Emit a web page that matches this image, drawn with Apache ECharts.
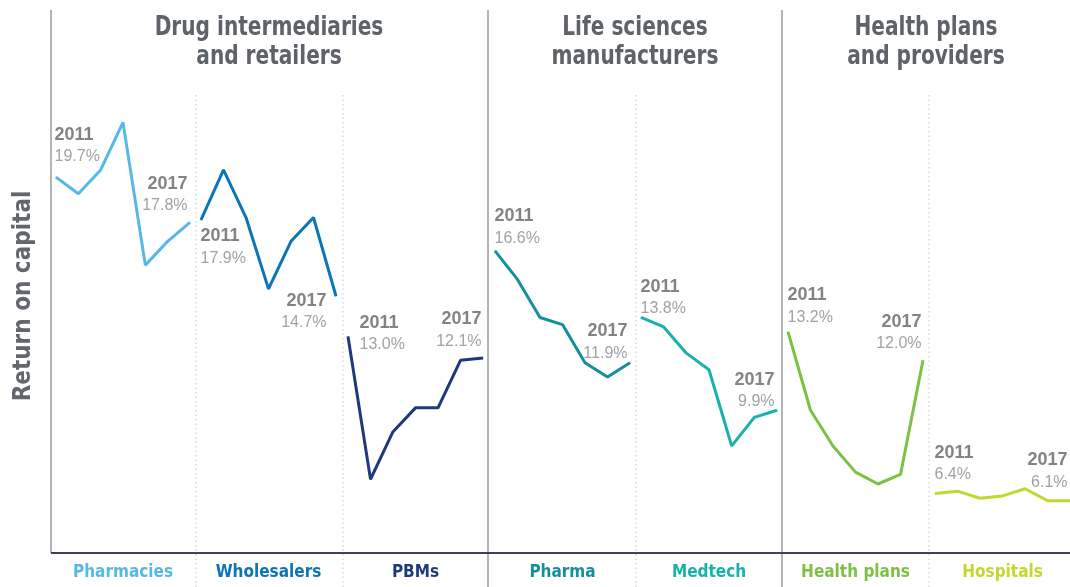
<!DOCTYPE html>
<html>
<head>
<meta charset="utf-8">
<script src="https://cdn.jsdelivr.net/npm/echarts@6/dist/echarts.min.js"></script>
<style>
  html, body { margin: 0; padding: 0; background: #fff; }
  #grafico { width: 1070px; height: 587px; }
</style>
</head>
<body>
<div id="grafico"></div>
<script>
// data (return on capital, %)
var years = ['2011', '2012', '2013', '2014', '2015', '2016', '2017'];
var segments = ['Pharmacies', 'Wholesalers', 'PBMs', 'Pharma', 'Medtech', 'Health plans', 'Hospitals'];
var groups = ['Drug intermediaries\nand retailers', 'Life sciences\nmanufacturers', 'Health plans\nand providers'];

var pharmacies  = [19.7, 19.0, 20.0, 22.0, 16.0, 17.0, 17.8];
var wholesalers = [17.9, 20.0, 18.0, 15.0, 17.0, 18.0, 14.7];
var pbms        = [13.0, 7.0, 9.0, 10.0, 10.0, 12.0, 12.1];
var pharma      = [16.6, 15.4, 13.8, 13.5, 11.9, 11.3, 11.9];
var medtech     = [13.8, 13.4, 12.3, 11.6, 8.4, 9.6, 9.9];
var healthPlans = [13.2, 9.9, 8.4, 7.3, 6.8, 7.2, 12.0];
var hospitals   = [6.4, 6.5, 6.2, 6.3, 6.6, 6.1, 6.1];

var allSeries = [pharmacies, wholesalers, pbms, pharma, medtech, healthPlans, hospitals];

// layout
var colors = ['#55b8e6', '#0b75b6', '#1e3a7c', '#148f9c', '#17b3aa', '#7cc143', '#c3d72f'];
var gridLeft = [56, 201, 348, 495, 641, 788, 935];
var gridWidth = [134, 135, 135, 135, 136, 135, 135];
// label offsets [dx, dy] relative to first / last point
var firstLabelPos = [[-1, -53], [0, 6], [12, -24], [0, -45], [0, -41], [0, -47], [0, -51]];
var lastLabelPos  = [[-2, -49], [-9, -6], [-1, -49], [-2, -42], [-2, -41], [-1, -49], [-2, -51]];

var COND = "'DejaVu Sans Condensed', 'Liberation Sans', sans-serif";
var LAB = "'Liberation Sans', Arial, sans-serif";

var chartDom = document.getElementById('grafico');
var myChart = echarts.init(chartDom);
var option;

var grids = [], xAxes = [], yAxes = [], series = [];

function makeLabel(year, val, pos, align) {
  return {
    show: true,
    position: pos,
    align: align,
    verticalAlign: 'top',
    formatter: '{y|' + year + '}\n{v|' + val.toFixed(1) + '%}',
    rich: {
      y: { fontFamily: LAB, fontWeight: 'bold', fontSize: 18, lineHeight: 22, color: '#818386', align: align },
      v: { fontFamily: LAB, fontSize: 16, lineHeight: 22, color: '#a0a2a5', align: align }
    }
  };
}

for (var i = 0; i < allSeries.length; i++) {
  var vals = allSeries[i];
  grids.push({ left: gridLeft[i], width: gridWidth[i], top: 95, height: 458, containLabel: false, outerBoundsMode: 'none' });
  xAxes.push({
    type: 'category',
    gridIndex: i,
    data: years,
    boundaryGap: false,
    axisLine: { show: false },
    axisTick: { show: false },
    axisLabel: { show: false },
    name: segments[i],
    nameLocation: 'middle',
    nameGap: 11,
    nameTextStyle: { color: colors[i], fontFamily: COND, fontWeight: 'bold', fontSize: 17 }
  });
  yAxes.push({
    type: 'value',
    gridIndex: i,
    min: 3.9,
    max: 23.15,
    show: false,
    splitLine: { show: false }
  });
  var data = vals.map(function (v, j) {
    var item = { value: v };
    if (j === 0) item.label = makeLabel(years[0], v, firstLabelPos[i], 'left');
    if (j === vals.length - 1) item.label = makeLabel(years[j], v, lastLabelPos[i], 'right');
    return item;
  });
  series.push({
    type: 'line',
    name: segments[i],
    xAxisIndex: i,
    yAxisIndex: i,
    data: data,
    symbol: 'circle',
    symbolSize: 1,
    showSymbol: true,
    itemStyle: { color: colors[i] },
    lineStyle: { color: colors[i], width: 3 },
    silent: true,
    animation: false,
    z: 3
  });
}

var gray = '#9a9b9e';
var graphics = [
  // y axis
  { type: 'line', shape: { x1: 51, y1: 10, x2: 51, y2: 553 }, style: { stroke: gray, lineWidth: 1.5 } },
  // group separators
  { type: 'line', shape: { x1: 488, y1: 10, x2: 488, y2: 587 }, style: { stroke: gray, lineWidth: 1.5 } },
  { type: 'line', shape: { x1: 782, y1: 10, x2: 782, y2: 587 }, style: { stroke: gray, lineWidth: 1.5 } },
  // x axis
  { type: 'line', shape: { x1: 51, y1: 553, x2: 1070, y2: 553 }, style: { stroke: '#3f4352', lineWidth: 2 }, z: 10 },
  // y axis title
  {
    type: 'text', x: 24, y: 296, rotation: Math.PI / 2,
    style: { text: 'Return on capital', fill: '#62666d', font: 'bold 24px ' + COND, textAlign: 'center', textVerticalAlign: 'middle' }
  }
];
[196, 343, 636, 929].forEach(function (x) {
  graphics.push({ type: 'line', shape: { x1: x, y1: 95, x2: x, y2: 587 }, style: { stroke: '#c4c5c8', lineWidth: 1, lineDash: [1.5, 3] } });
});
var groupCenters = [269, 635, 926];
groups.forEach(function (g, k) {
  graphics.push({
    type: 'text', x: groupCenters[k], y: 43, scaleX: 0.86,
    style: { text: g, fill: '#5e6269', font: 'bold 26px ' + COND, lineHeight: 29, textAlign: 'center', textVerticalAlign: 'middle' }
  });
});

option = {
  animation: false,
  grid: grids,
  xAxis: xAxes,
  yAxis: yAxes,
  series: series,
  graphic: graphics
};

option && myChart.setOption(option);
</script>
</body>
</html>
